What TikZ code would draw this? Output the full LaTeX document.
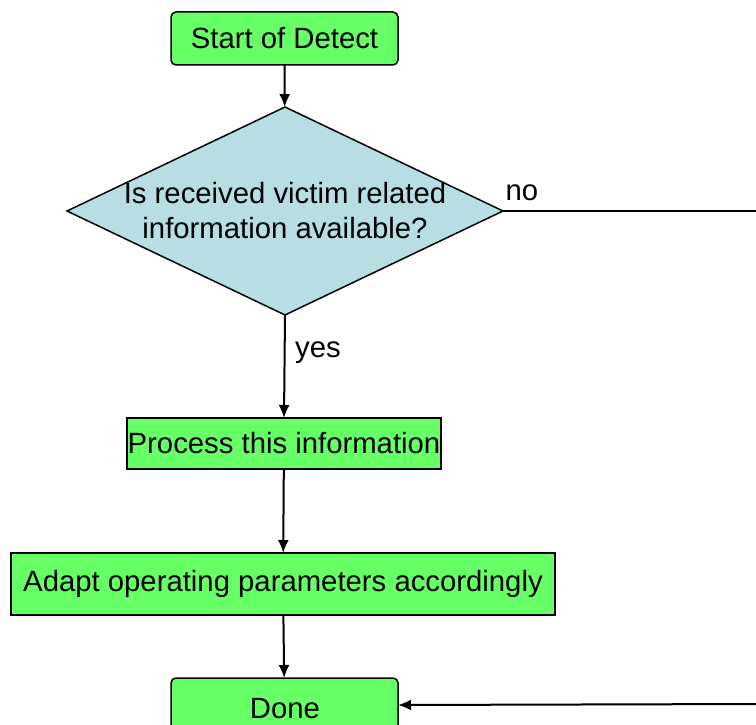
\documentclass[tikz,border=0pt]{standalone}
\usepackage{fontspec}
\setmainfont{Liberation Sans}
\usepackage{tikz}
\usetikzlibrary{shapes,arrows.meta,positioning}

\definecolor{boxgreen}{RGB}{102,255,102}
\definecolor{askblue}{RGB}{183,222,227}

\begin{document}
\begin{tikzpicture}[x=1pt, y=-1pt, font=\fontsize{29.3}{35}\selectfont]
		\tikzstyle{Term}	= [rectangle, rounded corners=5pt, draw, line width=1.5pt, fill=boxgreen, minimum width=227pt, inner sep=0pt, outer sep=0pt]
		\tikzstyle{Step}	= [rectangle, draw, line width=1.5pt, fill=boxgreen, inner sep=0pt, outer sep=0pt]
		\tikzstyle{Ask}		= [diamond, draw, line width=1.5pt, fill=askblue, minimum width=436pt, minimum height=208pt, inner sep=0pt, outer sep=0pt]
		\tikzstyle{Flow}	= [line width=2pt, -{Latex[length=13pt, width=11pt]}]
		\tikzstyle{Line}	= [line width=2pt]

		\useasboundingbox (0,0) rectangle (756,725);
		\clip (0,0) rectangle (756,725);

		\node (start) at (284.5, 38.5) [Term][minimum height=53pt] {Start of Detect};
		\node (ask) at (285, 211) [Ask] {};
		\node (asktext) at (285, 211) [align=center] {Is received victim related\\information available?};
		\node (proc) at (284, 443.5) [Step][minimum width=314pt, minimum height=51pt] {Process this information};
		\node (adapt) at (283, 584) [Step][minimum width=544pt, minimum height=62pt] {Adapt operating parameters accordingly};
		\node (done) at (284.5, 705) [Term][minimum height=54pt] {};
		\node (donetext) at (285, 709) {Done};

		\node (no) at (522, 193) {no};
		\node (yes) at (318, 353) {yes};

		\coordinate (c1) at (762, 211);
		\coordinate (c2) at (762, 704);

		\draw (start) to (ask) [Flow];
		\draw (ask.south) to (proc.north) [Flow];
		\draw (proc) to (adapt) [Flow];
		\draw (adapt) to (done) [Flow];
		\draw (ask.east) -- (c1) -- (c2) [Line];
		\draw (c2) to (done.east) [Flow];
	\end{tikzpicture}
\end{document}
